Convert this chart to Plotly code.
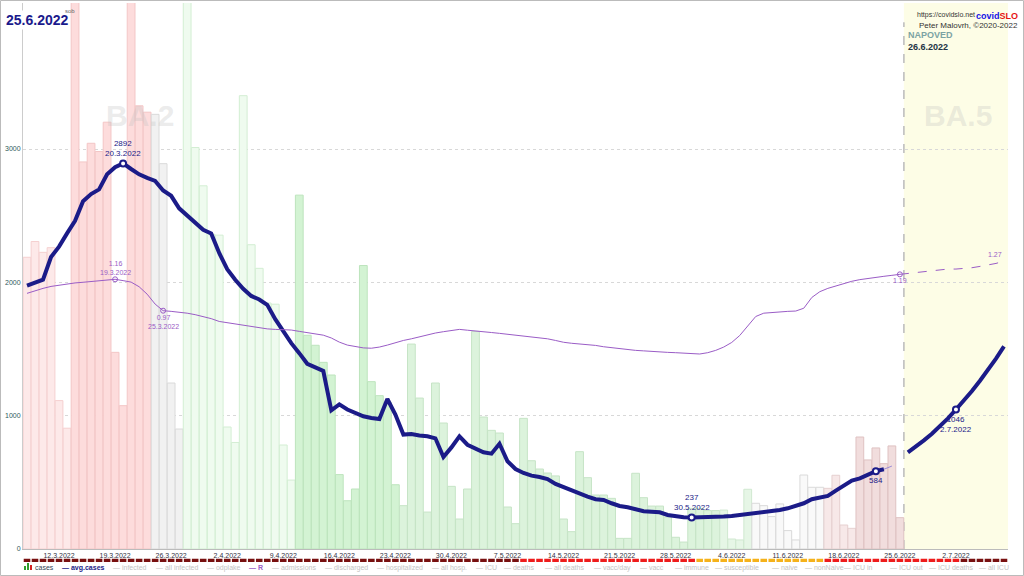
import pandas as pd
import plotly.graph_objects as go

# ---------------- DATA ----------------
START = "2022-03-08"          # first bar
N_DAYS = 123                  # 8.3.2022 .. 8.7.2022 (incl. forecast)

cases = [2188, 2306, 2225, 2260, 1113, 906, 4500, 2903, 3043, 2981,
         3201, 1475, 1075, 4400, 3324, 3276, 3260, 2890, 1245, 900,
         4300, 3011, 2724, 2360, 2354, 915, 799, 3400, 2282, 2105,
         1845, 1836, 780, 517, 2654, 1603, 1528, 1400, 1305, 558,
         362, 450, 2126, 1255, 1150, 1100, 482, 325, 1537, 1132,
         277, 1245, 945, 470, 225, 450, 1632, 990, 890, 870,
         315, 190, 980, 662, 600, 570, 548, 225, 130, 730,
         535, 405, 405, 380, 80, 80, 568, 385, 322, 322,
         240, 88, 52, 305, 305, 288, 288, 292, 75, 68,
         448, 343, 325, 243, 338, 138, 68, 555, 463, 463,
         455, 553, 180, 155, 840, 668, 758, 640, 773, 235]

avg_cases = [1975, 2000, 2020, 2190, 2268, 2367, 2461, 2609, 2662, 2697,
             2810, 2863, 2892, 2850, 2810, 2783, 2761, 2689, 2649, 2555,
             2501, 2440, 2394, 2367, 2220, 2099, 2019, 1952, 1898, 1871,
             1831, 1724, 1630, 1544, 1469, 1389, 1362, 1335, 1040, 1085,
             1046, 1019, 995, 983, 975, 1125, 1008, 858, 862, 852,
             845, 830, 690, 762, 845, 782, 750, 725, 715, 790,
             658, 600, 570, 550, 540, 525, 488, 463, 438, 413,
             393, 373, 368, 343, 323, 313, 298, 283, 280, 275,
             255, 243, 238, 237, 237, 236, 238, 243, 248, 255,
             262, 268, 275, 285, 293, 305, 323, 343, 373, 388,
             398, 438, 480, 513, 530, 555, 584, 598]
avg_tail = [598, 622]                      # provisional continuation (k=107..108)
forecast_cases = [725, 768, 815, 865, 920, 980, 1046, 1112, 1185, 1262,
                  1340, 1428, 1520]        # NAPOVED 26.6. .. 8.7.

r_values = [1.075, 1.092, 1.105, 1.117, 1.124, 1.133, 1.138, 1.142, 1.147, 1.152,
            1.156, 1.160, 1.152, 1.143, 1.115, 1.070, 1.010, 0.970, 0.966, 0.962,
            0.955, 0.946, 0.935, 0.922, 0.905, 0.897, 0.890, 0.883, 0.875, 0.868,
            0.860, 0.857, 0.857, 0.853, 0.845, 0.838, 0.830, 0.822, 0.805, 0.780,
            0.762, 0.752, 0.745, 0.743, 0.750, 0.762, 0.778, 0.790, 0.800, 0.812,
            0.825, 0.835, 0.843, 0.852, 0.857, 0.852, 0.846, 0.842, 0.838, 0.833,
            0.828, 0.823, 0.818, 0.812, 0.807, 0.800, 0.790, 0.779, 0.773, 0.770,
            0.767, 0.760, 0.752, 0.746, 0.740, 0.735, 0.730, 0.727, 0.723, 0.720,
            0.718, 0.716, 0.713, 0.710, 0.708, 0.716, 0.730, 0.750, 0.778, 0.820,
            0.880, 0.935, 0.955, 0.960, 0.963, 0.966, 0.968, 0.985, 1.050, 1.085,
            1.105, 1.120, 1.135, 1.148, 1.158, 1.166, 1.172, 1.178, 1.184, 1.190]
r_forecast = [1.190, 1.196, 1.202, 1.208, 1.214, 1.220, 1.222, 1.222, 1.224, 1.230,
              1.238, 1.246, 1.256, 1.270]

# phases of bars (run-length) and of the risk strip (run-length)
bar_phases = [("pink_light", 6), ("pink", 10), ("grey", 4), ("green_pale", 14),
              ("green_deep", 13), ("green_mid", 40), ("green_faint", 4),
              ("white", 9), ("pink_faint", 4), ("pink_dull", 6)]
strip_phases = [("black", 62), ("red", 22), ("orange", 16), ("red", 17), ("black", 6)]

week_ticks = ["2022-03-12", "2022-03-19", "2022-03-26", "2022-04-02", "2022-04-09",
              "2022-04-16", "2022-04-23", "2022-04-30", "2022-05-07", "2022-05-14",
              "2022-05-21", "2022-05-28", "2022-06-04", "2022-06-11", "2022-06-18",
              "2022-06-25", "2022-07-02"]

legend_items = ["cases", "avg.cases", "infected", "all infected", "odplake", "R",
                "admissions", "discharged", "hospitalized", "all hosp.", "ICU",
                "deaths", "all deaths", "vacc/day", "vacc", "immune", "susceptible",
                "naive", "nonNaive", "ICU in", "ICU out", "ICU deaths", "all ICU"]

# ---------------- STYLE ----------------
FONT = "Liberation Sans"
NAVY = "#1b1b88"
PURPLE = "#9a5cc6"
BAR_FILL = {"pink_light": "#fde9e9", "pink": "#fddcdc", "grey": "#f1f1f1",
            "green_pale": "#effbef", "green_deep": "#d3f3d3", "green_mid": "#dcf3dc",
            "green_faint": "#e6f6e6", "white": "#f9f9f9", "pink_faint": "#f7e8e8",
            "pink_dull": "#f1dddd"}
BAR_LINE = {"pink_light": "#f5d0d0", "pink": "#f3c6c6", "grey": "#dadada",
            "green_pale": "#d3eed3", "green_deep": "#bde4bd", "green_mid": "#c6e4c6",
            "green_faint": "#d0e8d0", "white": "#dadada", "pink_faint": "#e6d0d0",
            "pink_dull": "#dfc2c2"}
STRIP_COL = {"black": "#781010", "red": "#ee1c1c", "orange": "#f5b21b"}

# plot-area pixel geometry (1024x576 page)
L, R_EDGE, T, B_EDGE = 23, 1008, 3, 564
def px_x(px):
    return (px - L) / (R_EDGE - L)
def px_y(py):
    return (B_EDGE - py) / (B_EDGE - T)

days = pd.date_range(START, periods=N_DAYS, freq="D")
def dstr(d):
    return f"{d.day}.{d.month}.{d.year}"

def expand(runs):
    out = []
    for name, n in runs:
        out += [name] * n
    return out

bar_ph = expand(bar_phases)
strip_ph = expand(strip_phases)

n_c = len(cases)
n_a = len(avg_cases)
f0 = N_DAYS - len(forecast_cases)
DAY_MS = 86400000

fig = go.Figure()

# cases bars
fig.add_trace(go.Bar(
    x=days[:n_c], y=cases, width=DAY_MS * 0.97,
    marker=dict(color=[BAR_FILL[p] for p in bar_ph],
                line=dict(color=[BAR_LINE[p] for p in bar_ph], width=1)),
    name="cases"))

# R line (secondary axis)
fig.add_trace(go.Scatter(x=days[:len(r_values)], y=r_values, yaxis="y2",
                         mode="lines", line=dict(color=PURPLE, width=1), name="R"))
fig.add_trace(go.Scatter(x=days[len(r_values) - 1:len(r_values) - 1 + len(r_forecast)],
                         y=r_forecast, yaxis="y2", mode="lines",
                         line=dict(color=PURPLE, width=1, dash="dash"), name="R napoved"))
r_marks = [11, 17, len(r_values) - 1]
fig.add_trace(go.Scatter(x=[days[i] for i in r_marks], y=[r_values[i] for i in r_marks],
                         yaxis="y2", mode="markers",
                         marker=dict(symbol="circle-open", size=5, color=PURPLE,
                                     line=dict(width=1)), name="R marks"))

# avg cases
fig.add_trace(go.Scatter(x=days[n_a - 1:n_a - 1 + len(avg_tail)], y=avg_tail, mode="lines",
                         line=dict(color="#9a8ad6", width=1, dash="dash"), name="tail"))
fig.add_trace(go.Scatter(x=days[:n_a], y=avg_cases, mode="lines",
                         line=dict(color=NAVY, width=4), name="avg.cases"))
fig.add_trace(go.Scatter(x=days[f0:], y=forecast_cases, mode="lines",
                         line=dict(color=NAVY, width=4), name="napoved"))
a_marks = [12, 83, 106]
fc_mark = 6
fig.add_trace(go.Scatter(x=[days[i] for i in a_marks] + [days[f0 + fc_mark]],
                         y=[avg_cases[i] for i in a_marks] + [forecast_cases[fc_mark]],
                         mode="markers",
                         marker=dict(symbol="circle", size=6, color="white",
                                     line=dict(color=NAVY, width=2)), name="marks"))

# risk strip
fig.add_trace(go.Bar(x=days, y=[1] * N_DAYS, yaxis="y3", width=DAY_MS * 0.82,
                     marker=dict(color=[STRIP_COL[p] for p in strip_ph], line=dict(width=0)),
                     name="strip"))

ann = []
def a(**kw):
    base = dict(showarrow=False, xanchor="center",
                font=dict(family=FONT, size=7, color=NAVY))
    base.update(kw)
    ann.append(base)

# data labels
for i, pos in zip(a_marks, ["above", "above", "below"]):
    txt = f"{avg_cases[i]}" + ("" if i == a_marks[-1] else f"<br>{dstr(days[i])}")
    a(x=days[i], y=avg_cases[i], xref="x", yref="y", text=txt,
      yanchor="bottom" if pos == "above" else "top", yshift=3 if pos == "above" else -3,
      font=dict(family=FONT, size=8, color=NAVY))
a(x=days[f0 + fc_mark], y=forecast_cases[fc_mark], xref="x", yref="y",
  text=f"{forecast_cases[fc_mark]}<br>{dstr(days[f0 + fc_mark])}",
  yanchor="top", yshift=-3, font=dict(family=FONT, size=8, color=NAVY))
for i, pos in zip(r_marks, ["above", "below", "below"]):
    txt = f"{r_values[i]:.2f}" + ("" if i == r_marks[-1] else f"<br>{dstr(days[i])}")
    a(x=days[i], y=r_values[i], xref="x", yref="y2", text=txt,
      yanchor="bottom" if pos == "above" else "top", yshift=1 if pos == "above" else -1,
      font=dict(family=FONT, size=7, color=PURPLE))
a(x=days[-1], y=r_forecast[-1], xref="x", yref="y2", text=f"{r_forecast[-1]:.2f}",
  xanchor="right", yanchor="bottom", yshift=1, font=dict(family=FONT, size=7, color=PURPLE))

# watermarks
a(x=px_x(140), y=px_y(97), xref="paper", yref="paper", text="<b>BA.2</b>",
  font=dict(family=FONT, size=30, color="rgba(190,190,190,0.3)"))
a(x=px_x(958), y=px_y(97), xref="paper", yref="paper", text="<b>BA.5</b>",
  font=dict(family=FONT, size=30, color="rgba(190,190,190,0.3)"))

# titles / headers
a(x=px_x(4), y=px_y(10), xref="paper", yref="paper", xanchor="left",
  text=f"<b>{dstr(days[n_c - 1])}</b>", bgcolor="white",
  font=dict(family=FONT, size=14, color="#1a1a8c"))
a(x=px_x(63), y=px_y(6), xref="paper", yref="paper", xanchor="left", text="sob",
  font=dict(family=FONT, size=6, color="#666666"))
a(x=px_x(977), y=px_y(9), xref="paper", yref="paper", xanchor="right",
  text="https://covidslo.net", font=dict(family=FONT, size=7, color="#333333"))
a(x=px_x(1020), y=px_y(9), xref="paper", yref="paper", xanchor="right",
  text="<b><span style='color:#1414e6'>covid</span><span style='color:#e61414'>SLO</span></b>",
  font=dict(family=FONT, size=9, color="#1414e6"))
a(x=px_x(1020), y=px_y(19), xref="paper", yref="paper", xanchor="right",
  text="Peter Malovrh, ©2020-2022", font=dict(family=FONT, size=8, color="#333333"))
a(x=px_x(906), y=px_y(28), xref="paper", yref="paper", xanchor="left",
  text="<b>NAPOVED</b>", font=dict(family=FONT, size=9, color="#7ba3a3"))
a(x=px_x(906), y=px_y(40), xref="paper", yref="paper", xanchor="left",
  text=f"<b>{dstr(days[n_c])}</b>", font=dict(family=FONT, size=9, color="#223344"))

# legend (drawn as text)
leg_x = [33, 60, 111, 154, 205, 247, 270, 323, 375, 430, 474, 502, 543, 592, 638,
         673, 713, 770, 803, 842, 888, 927, 977]
for name, x in zip(legend_items, leg_x):
    if name == "cases":
        txt, col = name, "#334455"
    elif name == "avg.cases":
        txt, col = f"<b>— {name}</b>", NAVY
    elif name == "R":
        txt, col = f"<b>— {name}</b>", PURPLE
    else:
        txt, col = f"— {name}", "#c4c4c4"
    a(x=px_x(x), y=px_y(567.5), xref="paper", yref="paper", xanchor="left",
      yanchor="middle", text=txt, font=dict(family=FONT, size=7, color=col))

shapes = []
boundary = days[n_c - 1] + pd.Timedelta(hours=12)
range_end = days[-1] + pd.Timedelta(hours=12)
shapes.append(dict(type="rect", xref="x", yref="paper", x0=boundary, x1=range_end,
                   y0=px_y(549), y1=1, fillcolor="#fdfde6", line=dict(width=0), layer="below"))
shapes.append(dict(type="line", xref="x", yref="y", x0=boundary, x1=boundary, y0=0, y1=3950,
                   line=dict(color="#bbbbbb", width=1.5, dash="dash"), layer="below"))
# legend icon for cases
for (x0, x1, y0, c) in [(24, 26, 566, "#2e9e2e"), (27, 29, 563, "#2e9e2e"), (30, 32, 565, "#d42020")]:
    shapes.append(dict(type="rect", xref="paper", yref="paper", x0=px_x(x0), x1=px_x(x1),
                       y0=px_y(570), y1=px_y(y0), fillcolor=c, line=dict(width=0)))
# outer frame
shapes.append(dict(type="rect", xref="paper", yref="paper", x0=px_x(0.5), x1=px_x(1023.5),
                   y0=px_y(575.5), y1=px_y(0.5), line=dict(color="#bbbbbb", width=1)))

fig.update_layout(
    width=1024, height=576,
    margin=dict(l=L, r=1024 - R_EDGE, t=T, b=576 - B_EDGE, autoexpand=False),
    paper_bgcolor="white", plot_bgcolor="white",
    showlegend=False, barmode="overlay",
    font=dict(family=FONT, size=7),
    xaxis=dict(type="date", range=[days[0] - pd.Timedelta(hours=12), range_end],
               tickvals=week_ticks, ticktext=[dstr(pd.Timestamp(t)) for t in week_ticks],
               tickfont=dict(family=FONT, size=7, color="#333344"),
               showgrid=False, showline=True, linecolor="#bbbbbb", ticks="",
               anchor="y", zeroline=False, automargin=False),
    yaxis=dict(domain=[px_y(549), 1], range=[0, (549 - T) * 7.5],
               tickvals=[0, 1000, 2000, 3000],
               tickfont=dict(family=FONT, size=7, color="#2e5a5a"),
               showgrid=True, gridcolor="#d8d8d8", griddash="dot",
               showline=True, linecolor="#cccccc", zeroline=False, ticks="", automargin=False),
    yaxis2=dict(overlaying="y", range=[-0.4716, 2.8315], visible=False, anchor="x"),
    yaxis3=dict(domain=[px_y(562), px_y(558.5)], range=[0, 1], visible=False, anchor="x"),
    annotations=ann, shapes=shapes,
)

fig.write_html("out.html", config={"displayModeBar": False},
               post_script="document.body.style.margin='0px';")
